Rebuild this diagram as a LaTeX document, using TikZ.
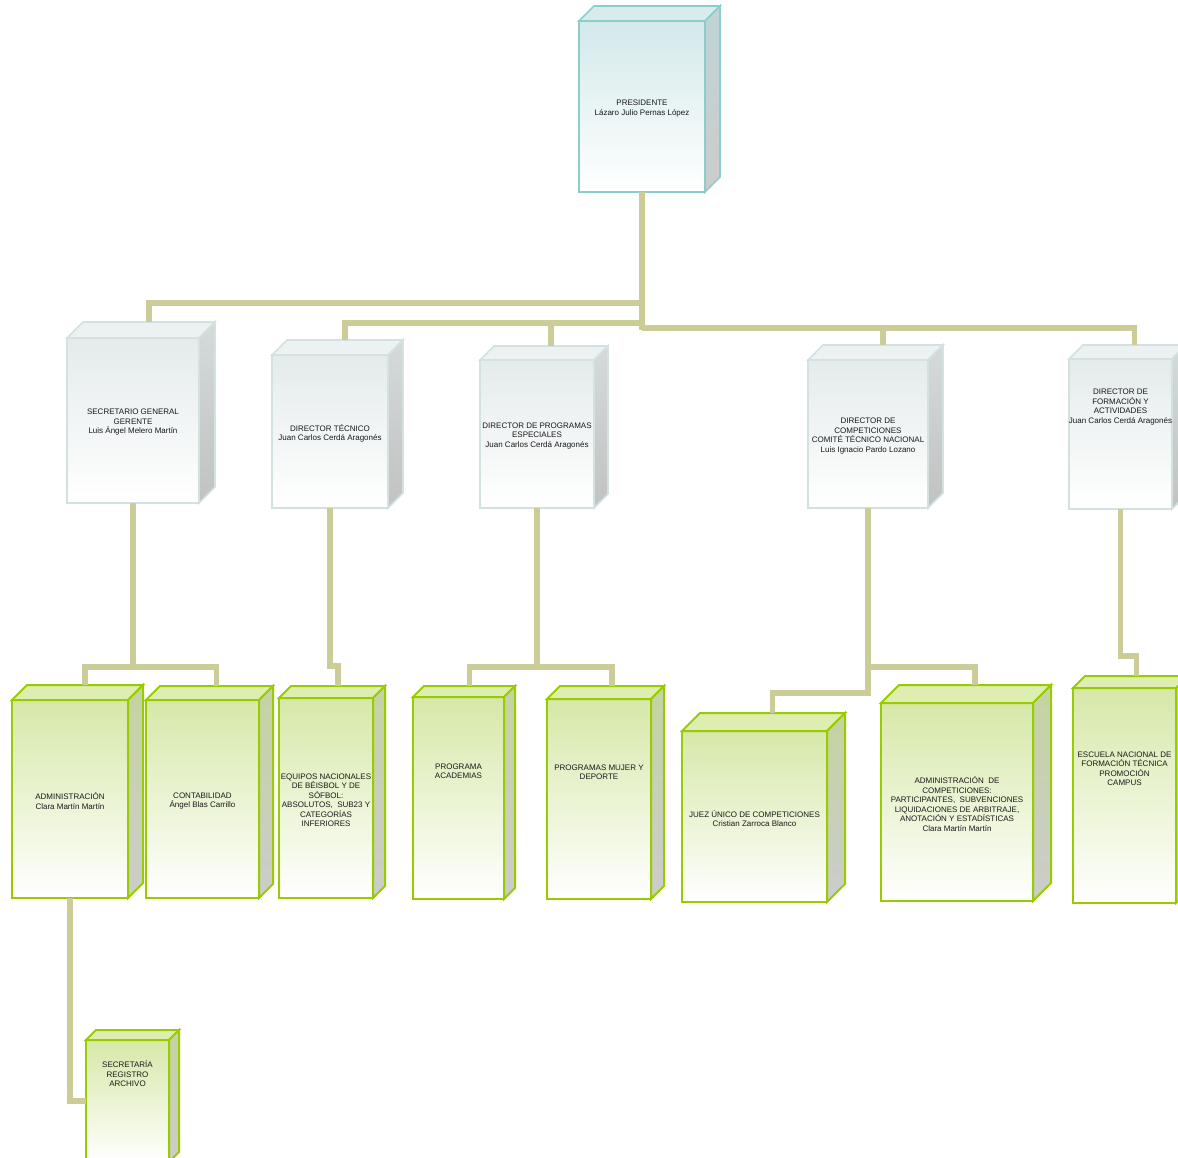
\documentclass[tikz,border=0pt]{standalone}
\usepackage{fontspec}
\setmainfont{Liberation Sans}
\usetikzlibrary{calc}
\definecolor{linkcol}{RGB}{204,204,153}
\definecolor{presline}{RGB}{140,204,204}
\definecolor{presfill}{RGB}{211,233,234}
\definecolor{prestop}{RGB}{216,236,236}
\definecolor{presside}{RGB}{190,212,212}
\definecolor{dirline}{RGB}{212,225,225}
\definecolor{dirfill}{RGB}{228,235,235}
\definecolor{dirtop}{RGB}{236,241,241}
\definecolor{dirside}{RGB}{212,218,218}
\definecolor{secline}{RGB}{153,204,0}
\definecolor{secfill}{RGB}{214,232,168}
\definecolor{sectop}{RGB}{221,238,176}
\definecolor{secside}{RGB}{196,212,160}
\definecolor{sidebase}{RGB}{204,204,204}

\begin{document}
\begin{tikzpicture}[%
    x=1pt, y=-1pt,              % work in image pixels, y going down
    link/.style={draw=linkcol, line width=5.5pt},
    txt/.style={font={\fontsize{8}{9.5}\selectfont}, align=center,
      text=black!90, inner sep=0pt, yshift=-2pt},
    raised/.style={yshift=29pt}]
\useasboundingbox (0,0) rectangle (1178,1157);
\clip (0,0) rectangle (1178,1157);
% -------------------------------------------------
% Box styles: a front face node, top and side are drawn afterwards
\tikzset{
  face/.style={rectangle, anchor=north west, outer sep=0pt, inner sep=0pt},
  face pres/.style={face, draw=presline, line width=1.6pt,
    top color=presfill, middle color=presfill!60!white, bottom color=white},
  face dir/.style={face, draw=dirline, line width=1.6pt,
    top color=dirfill, middle color=dirfill!60!white, bottom color=white},
  face sec/.style={face, draw=secline, line width=2pt,
    top color=secfill, middle color=secfill!65!white, bottom color=white},
  top pres/.style={draw=presline, line width=1.6pt, fill=prestop},
  side pres/.style={draw=presline, line width=1.6pt,
    top color=presside, bottom color=sidebase},
  top dir/.style={draw=dirline, line width=1.6pt, fill=dirtop},
  side dir/.style={draw=dirline, line width=1.6pt,
    top color=dirside, bottom color=sidebase!95!black},
  top sec/.style={draw=secline, line width=2pt, fill=sectop},
  side sec/.style={draw=secline, line width=2pt,
    top color=secside, bottom color=sidebase}
}
% -------------------------------------------------
% Front faces
\node [face pres, minimum width=126pt, minimum height=171pt] (pres) at (579,21) {};

\node [face dir, minimum width=132pt, minimum height=165pt] (sg)   at (67,338) {};
\node [face dir, minimum width=116pt, minimum height=153pt] (tec)  at (272,355) {};
\node [face dir, minimum width=114pt, minimum height=148pt] (prog) at (480,360) {};
\node [face dir, minimum width=120pt, minimum height=148pt] (comp) at (808,360) {};
\node [face dir, minimum width=103pt, minimum height=150pt] (form) at (1069,359) {};

\node [face sec, minimum width=116pt, minimum height=198pt] (adm)   at (12,700) {};
\node [face sec, minimum width=113pt, minimum height=198pt] (cont)  at (146,700) {};
\node [face sec, minimum width=94pt,  minimum height=200pt] (equ)   at (279,698) {};
\node [face sec, minimum width=91pt,  minimum height=202pt] (acad)  at (413,697) {};
\node [face sec, minimum width=104pt, minimum height=200pt] (mujer) at (547,699) {};
\node [face sec, minimum width=145pt, minimum height=171pt] (juez)  at (682,731) {};
\node [face sec, minimum width=152pt, minimum height=198pt] (acomp) at (881,703) {};
\node [face sec, minimum width=103pt, minimum height=215pt] (esc)   at (1073,688) {};
\node [face sec, minimum width=83pt,  minimum height=122pt] (secr)  at (86,1040) {};

% -------------------------------------------------
% Top and side of every box; (name-top) marks the middle of the back edge
\foreach \n/\d in {pres/15} {
  \filldraw [top pres] (\n.north west) -- ++(\d,-\d)
    -- ($(\n.north east)+(\d,-\d)$) -- (\n.north east) -- cycle;
  \draw [side pres] (\n.north east) -- ++(\d,-\d)
    -- ($(\n.south east)+(\d,-\d)$) -- (\n.south east) -- cycle;
  \coordinate (\n-top) at ($(\n.north)+(\d,-\d)$);
}
\foreach \n/\d in {sg/16, tec/15, prog/14, comp/15, form/14} {
  \filldraw [top dir] (\n.north west) -- ++(\d,-\d)
    -- ($(\n.north east)+(\d,-\d)$) -- (\n.north east) -- cycle;
  \draw [side dir] (\n.north east) -- ++(\d,-\d)
    -- ($(\n.south east)+(\d,-\d)$) -- (\n.south east) -- cycle;
  \coordinate (\n-top) at ($(\n.north)+(\d,-\d)$);
}
\foreach \n/\d in {adm/15, cont/14, equ/12, acad/11, mujer/13,
                   juez/18, acomp/18, esc/12, secr/10} {
  \filldraw [top sec] (\n.north west) -- ++(\d,-\d)
    -- ($(\n.north east)+(\d,-\d)$) -- (\n.north east) -- cycle;
  \draw [side sec] (\n.north east) -- ++(\d,-\d)
    -- ($(\n.south east)+(\d,-\d)$) -- (\n.south east) -- cycle;
  \coordinate (\n-top) at ($(\n.north)+(\d,-\d)$);
}

% -------------------------------------------------
% Texts
\node [txt] (pres-t) at (pres) {PRESIDENTE\\Lázaro Julio Pernas López};
\node [txt] (sg-t) at (sg) {SECRETARIO GENERAL\\GERENTE\\Luis Ángel Melero Martín};
\node [txt] (tec-t) at (tec) {DIRECTOR TÉCNICO\\Juan Carlos Cerdá Aragonés};
\node [txt] (prog-t) at (prog) {DIRECTOR DE PROGRAMAS\\ESPECIALES\\Juan Carlos Cerdá Aragonés};
\node [txt] (comp-t) at (comp) {DIRECTOR DE\\COMPETICIONES\\COMITÉ TÉCNICO NACIONAL\\Luis Ignacio Pardo Lozano};
\node [txt, raised] (form-t) at (form) {DIRECTOR DE\\FORMACIÓN Y\\ACTIVIDADES\\Juan Carlos Cerdá Aragonés};
\node [txt] (adm-t) at (adm) {ADMINISTRACIÓN\\Clara Martín Martín};
\node [txt] (cont-t) at (cont) {CONTABILIDAD\\Ángel Blas Carrillo};
\node [txt] (equ-t) at (equ) {EQUIPOS NACIONALES\\DE BÉISBOL Y DE\\SÓFBOL:\\ABSOLUTOS,\ \ SUB23 Y\\CATEGORÍAS\\INFERIORES};
\node [txt, raised] (acad-t) at (acad) {PROGRAMA\\ACADEMIAS};
\node [txt, raised] (mujer-t) at (mujer) {PROGRAMAS MUJER Y\\DEPORTE};
\node [txt] (juez-t) at (juez) {JUEZ ÚNICO DE COMPETICIONES\\Cristian Zarroca Blanco};
\node [txt] (acomp-t) at (acomp) {ADMINISTRACIÓN\ \ DE\\COMPETICIONES:\\PARTICIPANTES,\ \ SUBVENCIONES\\LIQUIDACIONES DE ARBITRAJE,\\ANOTACIÓN Y ESTADÍSTICAS\\Clara Martín Martín};
\node [txt, raised] (esc-t) at (esc) {ESCUELA NACIONAL DE\\FORMACIÓN TÉCNICA\\PROMOCIÓN\\CAMPUS};
\node [txt, raised] (secr-t) at (secr) {SECRETARÍA\\REGISTRO\\ARCHIVO};

% -------------------------------------------------
% Connectors from the president down to the directors
\draw [link] (pres.south) -- ++(0,138);
\draw [link] ($(pres.south)+(0,111)$) -| (sg-top);
\draw [link] ($(pres.south)+(0,131)$) -| (tec-top);
\draw [link] ($(pres.south)+(0,131)$) -| (prog-top);
\draw [link] ($(pres.south)+(0,136)$) -| (comp-top);
\draw [link] ($(pres.south)+(0,136)$) -| (form-top);

% directors down to their sections
\draw [link] (sg.south) -- ++(0,164) -| (adm-top);
\draw [link] (sg.south) -- ++(0,164) -| (cont-top);
\draw [link] (tec.south) -- ++(0,158) -| (equ-top);
\draw [link] (prog.south) -- ++(0,159) -| (acad-top);
\draw [link] (prog.south) -- ++(0,159) -| (mujer-top);
\draw [link] (comp.south) -- ++(0,159) -| (acomp-top);
\draw [link] (comp.south) -- ++(0,185) -| (juez-top);
\draw [link] (form.south) -- ++(0,147) -| (esc-top);
\draw [link] (adm.south) |- (secr.west);
\end{tikzpicture}
\end{document}
